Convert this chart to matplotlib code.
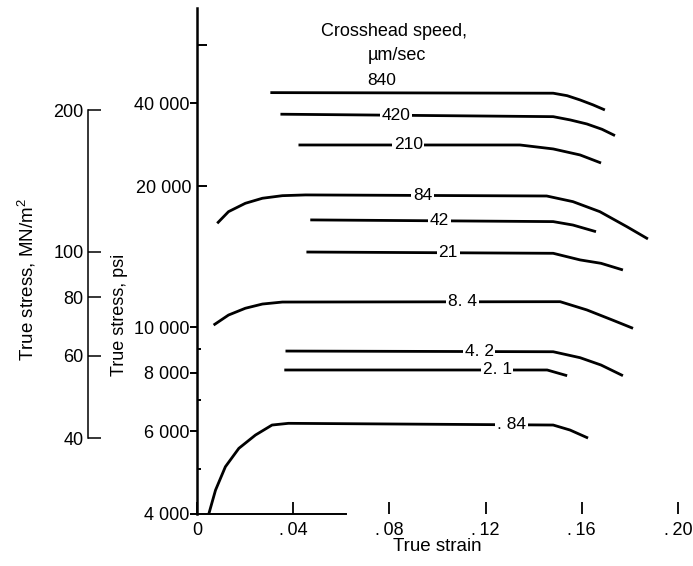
import numpy as np
import matplotlib.pyplot as plt
from matplotlib.ticker import FixedLocator, FixedFormatter

plt.rcParams['font.family'] = ['Liberation Sans', 'DejaVu Sans']
plt.rcParams['mathtext.fontset'] = 'custom'
plt.rcParams['mathtext.rm'] = 'Liberation Sans'

PSI_PER_MPA = 145.038

# crosshead speed, um/sec, and the true stress - true strain curves
speeds = ['840', '420', '210', '84', '42', '21', '8. 4', '4. 2', '2. 1', '. 84']

strain_840 = [0.0305, 0.1481, 0.1539, 0.1593, 0.1647, 0.1696]
stress_840 = [31640, 31550, 31170, 30520, 29790, 29060]

strain_420 = [0.0347, 0.1481, 0.1552, 0.1621, 0.1684, 0.1738]
stress_420 = [28460, 28120, 27670, 27130, 26430, 25620]

strain_210 = [0.0422, 0.1343, 0.1481, 0.1593, 0.1680]
stress_210 = [24470, 24470, 24000, 23300, 22400]

strain_84 = [0.0084, 0.0131, 0.0201, 0.0272, 0.0355, 0.0451, 0.1454, 0.1563, 0.1675, 0.1788, 0.1875]
stress_84 = [16660, 17640, 18380, 18840, 19080, 19150, 19050, 18530, 17640, 16380, 15430]

strain_42 = [0.0471, 0.1481, 0.1563, 0.1659]
stress_42 = [16940, 16800, 16520, 15990]

strain_21 = [0.0455, 0.1481, 0.1593, 0.1680, 0.1771]
stress_21 = [14470, 14380, 13920, 13690, 13250]

strain_8_4 = [0.0069, 0.0131, 0.0201, 0.0272, 0.0355, 0.1510, 0.1621, 0.1726, 0.1813]
stress_8_4 = [10110, 10620, 10980, 11210, 11320, 11340, 10890, 10370, 9950]

strain_4_2 = [0.0368, 0.1481, 0.1593, 0.1680, 0.1771]
stress_4_2 = [8900, 8870, 8614, 8310, 7886]

strain_2_1 = [0.0363, 0.1456, 0.1539]
stress_2_1 = [8110, 8110, 7886]

strain_0_84 = [0.0049, 0.0077, 0.0118, 0.0174, 0.0243, 0.0312, 0.0380, 0.1481, 0.1551, 0.1626]
stress_0_84 = [4000, 4497, 5044, 5521, 5893, 6190, 6242, 6190, 6040, 5807]

strains = [strain_840, strain_420, strain_210, strain_84, strain_42,
           strain_21, strain_8_4, strain_4_2, strain_2_1, strain_0_84]
stresses = [stress_840, stress_420, stress_210, stress_84, stress_42,
            stress_21, stress_8_4, stress_4_2, stress_2_1, stress_0_84]

# strain at which each speed is written on its curve
label_strain = [0.0770, 0.0828, 0.0878, 0.0939, 0.1007, 0.1044, 0.1103, 0.1173, 0.1248, 0.1308]

psi_major = [4000, 6000, 8000, 10000, 30000]
psi_major_labels = ['4 000', '6 000', '8 000', '10 000', '40 000']
psi_minor = [5000, 7000, 9000, 20000, 40000]
psi_minor_labels = ['', '', '', '20 000', '']

mpa_ticks = [40, 60, 80, 100, 200]
strain_ticks = [0, 0.04, 0.08, 0.12, 0.16, 0.20]
strain_tick_labels = ['0', '.\u200904', '.\u200908', '.\u200912', '.\u200916', '.\u200920']

psi_lim = (4000, 47860)

fig = plt.figure(figsize=(6.93, 5.66), dpi=100)
ax = fig.add_axes([197 / 693, 52 / 566, 481 / 693, 505.7 / 566])
ax.set_yscale('log')
ax.set_xlim(0, 0.2)
ax.set_ylim(*psi_lim)

for x, y in zip(strains, stresses):
    ax.plot(x, y, color='black', lw=2.0, solid_capstyle='butt')

fs = 13
for i, (s, x, y) in enumerate(zip(speeds, strains, stresses)):
    lx = label_strain[i]
    ly = 10 ** np.interp(lx, x, np.log10(y))
    if i == 0:
        ax.annotate(s, (lx, ly), xytext=(0, 9), textcoords='offset points',
                    ha='center', va='center', fontsize=12.5)
    else:
        ax.text(lx, ly, s, ha='center', va='center', fontsize=12.5,
                bbox=dict(facecolor='white', edgecolor='none', pad=1.2))

for side in ['top', 'right']:
    ax.spines[side].set_visible(False)
ax.spines['left'].set_linewidth(1.8)
ax.spines['bottom'].set_linewidth(1.4)
ax.spines['bottom'].set_bounds(0, 0.062)

ax.xaxis.set_major_locator(FixedLocator(strain_ticks))
ax.xaxis.set_major_formatter(FixedFormatter(strain_tick_labels))
ax.tick_params(axis='x', direction='in', length=9, width=1.3, pad=6, labelsize=fs)

ax.yaxis.set_major_locator(FixedLocator(psi_major))
ax.yaxis.set_major_formatter(FixedFormatter(psi_major_labels))
ax.yaxis.set_minor_locator(FixedLocator(psi_minor))
ax.yaxis.set_minor_formatter(FixedFormatter(psi_minor_labels))
ax.tick_params(axis='y', which='major', direction='out', length=5, width=1.4,
               pad=0.5, labelsize=fs)
ax.tick_params(axis='y', which='minor', direction='in', length=7.5, width=1.4,
               pad=4, labelsize=fs)
for t in ax.yaxis.get_minor_ticks()[:3]:
    t.tick1line.set_markersize(3)

ax.set_xlabel('True strain', fontsize=13.5, labelpad=-1)

# companion stress scale in MN/m^2
ax2 = fig.add_axes([88 / 693, 52 / 566, 0.01, 505.7 / 566])
ax2.patch.set_visible(False)
ax2.set_yscale('log')
ax2.set_ylim(psi_lim[0] / PSI_PER_MPA, psi_lim[1] / PSI_PER_MPA)
for side in ['top', 'right', 'bottom']:
    ax2.spines[side].set_visible(False)
ax2.spines['left'].set_bounds(40, 200)
ax2.spines['left'].set_linewidth(1.1)
ax2.set_xticks([])
ax2.yaxis.set_major_locator(FixedLocator(mpa_ticks))
ax2.yaxis.set_major_formatter(FixedFormatter([str(v) for v in mpa_ticks]))
ax2.yaxis.set_minor_locator(FixedLocator([]))
ax2.tick_params(axis='y', direction='in', length=9, width=1.1, pad=3, labelsize=fs)

fig.text(120 / 693, 1 - 315 / 566, 'True stress, psi', rotation=90,
         ha='center', va='center', fontsize=13)
fig.text(27 / 693, 1 - 280 / 566, 'True stress, MN/m$^2$', rotation=90,
         ha='center', va='center', fontsize=13.5)
fig.text(394 / 693, 1 - 32 / 566, 'Crosshead speed,', ha='center', va='center',
         fontsize=fs)
fig.text(397 / 693, 1 - 55 / 566, '\u00b5m/sec', ha='center', va='center',
         fontsize=fs)

fig.savefig('out.png', dpi=100)
